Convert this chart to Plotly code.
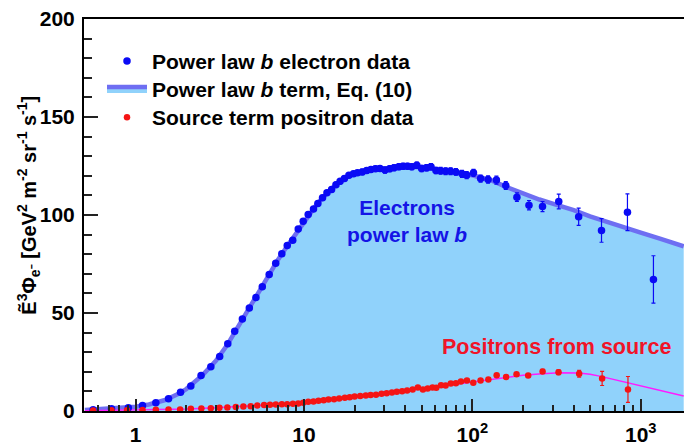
import plotly.graph_objects as go
import math

# ---------------- data ----------------
ele_E = [0.56, 0.72, 0.906, 1.10, 1.32, 1.57, 1.85, 2.13, 2.45, 2.80, 3.16, 3.53, 3.88, 4.31, 4.74,
         5.19, 5.66, 6.22, 6.80, 7.39, 7.96, 8.58, 9.25, 9.9, 10.6, 11.4, 12.1, 12.9, 13.7, 14.6,
         15.5, 16.4, 17.4, 18.5, 19.7, 20.8, 22.2, 23.6, 25.0, 26.6, 28.3, 30.3, 32.3, 34.3, 36.6,
         38.8, 41.2, 43.7, 46.8, 50.0, 53.5, 56.8, 60.8, 64.8, 69.4, 74.3, 79.9, 86.8, 92.6, 101.6,
         112, 124, 139, 158, 184, 217, 261, 326, 428, 585, 834, 1190]
ele_v = [0.7, 1.2, 1.6, 2.8, 4.2, 6.2, 9.6, 12.7, 18.1, 22.6, 27.8, 34.3, 40.7, 47.0, 52.5,
         57.9, 63.4, 69.6, 75.4, 80.2, 84.4, 87.1, 92.8, 96.8, 100.3, 103.0, 105.9, 108.8, 111.3, 113.0,
         115.4, 117.2, 118.6, 120.3, 121.0, 121.5, 122.0, 122.7, 123.2, 123.6, 123.7, 122.9, 123.6, 124.1, 124.6,
         124.9, 124.9, 124.6, 125.4, 123.7, 124.1, 124.6, 122.7, 122.6, 122.3, 122.3, 122.0, 121.0, 120.3, 121.5,
         118.6, 118.1, 117.8, 115.1, 109.1, 105.0, 104.3, 106.9, 99.1, 92.1, 101.4, 67.1]
ele_err = [0.3, 0.3, 0.3, 0.4, 0.4, 0.5, 0.6, 0.6, 0.7, 0.7, 0.8, 0.8, 0.8, 0.9, 0.9,
           0.9, 0.9, 1.0, 1.0, 1.0, 1.0, 1.0, 1.1, 1.1, 1.1, 1.1, 1.2, 1.2, 1.2, 1.2,
           1.2, 1.3, 1.3, 1.3, 1.3, 1.3, 1.4, 1.4, 1.4, 1.4, 1.4, 1.5, 1.5, 1.5, 1.5,
           1.5, 1.5, 1.5, 1.6, 1.6, 1.6, 1.6, 1.6, 1.7, 1.7, 1.7, 1.7, 1.8, 1.8, 1.8,
           1.8, 1.9, 2.0, 2.0, 2.2, 2.4, 2.6, 3.8, 4.4, 6.0, 9.4, 12.1]

pos_E = [0.56, 0.72, 0.89, 1.10, 1.32, 1.57, 1.84, 2.13, 2.46, 2.80, 3.15, 3.51, 3.94, 4.37, 4.83,
         5.28, 5.80, 6.29, 6.81, 7.39, 7.95, 8.6, 9.25, 9.9, 10.6, 11.4, 12.2, 13.1, 14.0, 15.1,
         16.2, 17.5, 18.7, 20.0, 21.6, 23.3, 24.9, 26.8, 28.9, 31.0, 33.3, 35.6, 38.3, 41.0, 44.2,
         47.5, 50.9, 54.3, 58.0, 61.1, 65.2, 69.4, 74.5, 79.9, 85.6, 92.9, 101.3, 111.9, 124.5, 139.5,
         158.7, 183.0, 214.7, 261.4, 325, 431, 590, 840]
pos_v = [0.25, 0.4, 0.4, 0.45, 0.6, 0.75, 0.75, 1.1, 1.3, 1.4, 1.6, 1.8, 2.1, 2.3, 2.4,
         2.8, 3.0, 3.2, 3.3, 3.4, 3.5, 3.7, 3.8, 4.2, 4.7, 4.8, 5.2, 5.5, 5.9, 6.0,
         6.4, 6.7, 7.0, 7.4, 7.6, 7.9, 8.1, 8.3, 8.8, 9.1, 9.4, 9.8, 10.1, 10.5, 11.0,
         12.0, 11.0, 11.5, 12.0, 11.8, 13.2, 13.0, 14.0, 14.2, 15.1, 15.6, 14.4, 15.6, 16.1, 18.3,
         17.4, 18.8, 18.1, 20.2, 19.8, 19.0, 16.6, 11.0]
pos_err = [0.1, 0.1, 0.1, 0.1, 0.1, 0.1, 0.1, 0.1, 0.1, 0.1, 0.1, 0.1, 0.1, 0.1, 0.1,
           0.1, 0.1, 0.1, 0.1, 0.2, 0.2, 0.2, 0.2, 0.2, 0.2, 0.2, 0.2, 0.2, 0.2, 0.2,
           0.2, 0.2, 0.2, 0.3, 0.3, 0.3, 0.3, 0.3, 0.3, 0.3, 0.3, 0.3, 0.3, 0.4, 0.4,
           0.4, 0.4, 0.4, 0.4, 0.4, 0.5, 0.5, 0.5, 0.5, 0.5, 0.6, 0.6, 0.6, 0.7, 0.7,
           0.8, 0.8, 0.9, 1.0, 1.2, 1.7, 3.6, 6.6]

model_E = [0.5, 0.6, 0.7, 0.8, 0.9, 1.0, 1.2, 1.5, 1.8, 2.0, 2.5, 3, 3.5, 4, 4.5, 5, 6, 7, 8, 9,
           10, 12, 14, 16, 18, 20, 25, 30, 40, 50, 60, 80, 100, 130, 160, 200, 250, 300, 400,
           500, 600, 800, 1000, 1300, 1800]
model_v = [0.5, 0.8, 1.1, 1.4, 1.8, 2.2, 3.3, 5.6, 8.8, 11.2, 18.3, 25.6, 33.6, 42.0, 49.5, 55.6,
           67.0, 77.0, 84.4, 90.5, 96.8, 105.8, 112.0, 116.6, 119.5, 121.2, 123.0, 123.8, 124.6,
           124.4, 123.6, 122.0, 120.3, 117.6, 114.2, 110.9, 107.9, 105.8, 102.5, 99.3, 97.0, 93.5,
           91.0, 87.9, 84.0]

src_E = [0.5, 1, 2, 3, 5, 7, 10, 15, 20, 30, 50, 70, 100, 150, 200, 260, 330, 430, 500, 570,
         690, 830, 1000, 1140, 1300, 1490, 1800]
src_v = [0.15, 0.45, 1.0, 1.6, 2.6, 3.4, 4.4, 6.0, 7.2, 9.0, 11.3, 13.0, 15.0, 17.0, 18.2, 19.0,
         19.5, 19.4, 18.8, 17.8, 16.1, 14.4, 12.6, 11.3, 10.3, 9.3, 7.6]

x_tickvals = [1, 10, 100, 1000]
x_ticktext = ["1", "10", "10<sup>2</sup>", "10<sup>3</sup>"]
x_minor = [m * d for d in (0.1, 1, 10, 100, 1000) for m in range(2, 10)]
y_tickvals = [0, 50, 100, 150, 200]

FONT = "Liberation Sans"
BLUE = "#0a0af5"
RED = "#f51414"

fig = go.Figure()

fig.add_trace(go.Scatter(
    x=model_E, y=model_v, mode="lines", fill="tozeroy",
    fillcolor="#90d2fb", line=dict(color="#6e6ef2", width=4.5),
    name="Power law <i>b</i> term, Eq. (10)", legend="legend2"))

fig.add_trace(go.Scatter(
    x=src_E, y=src_v, mode="lines", line=dict(color="#ff1aff", width=1.5),
    showlegend=False))

fig.add_trace(go.Scatter(
    x=ele_E, y=ele_v, mode="markers",
    marker=dict(color=BLUE, size=7.5),
    error_y=dict(type="data", array=ele_err, color=BLUE, thickness=1.2, width=2),
    name="Power law <i>b</i> electron data", legend="legend"))

fig.add_trace(go.Scatter(
    x=pos_E, y=pos_v, mode="markers",
    marker=dict(color=RED, size=6.5),
    error_y=dict(type="data", array=pos_err, color=RED, thickness=1.2, width=2),
    name="Source term positron data", legend="legend3"))

fig.add_annotation(x=math.log10(40.9), y=97, xref="x", yref="y",
                   text="Electrons<br>power law <i>b</i>", showarrow=False,
                   font=dict(family=FONT, size=21, color="#1414e6", weight="bold"))
fig.add_annotation(x=math.log10(318), y=32.5, xref="x", yref="y",
                   text="Positrons from source", showarrow=False,
                   font=dict(family=FONT, size=21.5, color="#f01428", weight="bold"))
fig.add_annotation(x=-0.12, y=0.525, xref="paper", yref="paper", textangle=-90,
                   text="Ẽ<sup>3</sup>Φ<sub>e⁻</sub> [GeV<sup>2</sup> m<sup>-2</sup> sr<sup>-1</sup> s<sup>-1</sup>]",
                   showarrow=False,
                   font=dict(family=FONT, size=20, color="black", weight="bold"))

def leg(ytop):
    return dict(x=0.03, y=ytop, xanchor="left", yanchor="top", itemwidth=40,
                bgcolor="rgba(0,0,0,0)", font=dict(family=FONT, size=21, weight="bold"))

fig.update_layout(
    width=684, height=447,
    margin=dict(l=84, r=0, t=19, b=36),
    paper_bgcolor="white", plot_bgcolor="white",
    font=dict(family=FONT, size=20, color="black", weight="bold"),
    showlegend=True,
    legend=leg(0.944), legend2=leg(0.8726), legend3=leg(0.801),
)

fig.update_xaxes(
    type="log", range=[-0.306, 3.257],
    tickvals=x_tickvals, ticktext=x_ticktext,
    ticks="inside", ticklen=12, tickwidth=1.5, tickcolor="#222",
    minor=dict(tickmode="array", tickvals=x_minor, ticks="inside", ticklen=6,
               tickwidth=1.5, tickcolor="#222", showgrid=False),
    showline=True, linecolor="black", linewidth=2, mirror=True,
    showgrid=False, zeroline=False, ticklabelstandoff=4,
    tickfont=dict(family=FONT, size=21, weight="bold"))

fig.update_yaxes(
    range=[0, 200], tickvals=y_tickvals,
    ticks="inside", ticklen=14, tickwidth=1.5, tickcolor="#222",
    minor=dict(dtick=10, ticks="inside", ticklen=8, tickwidth=1.5,
               tickcolor="#222", showgrid=False),
    showline=True, linecolor="black", linewidth=2, mirror=False,
    showgrid=False, zeroline=False, ticklabelstandoff=3,
    tickfont=dict(family=FONT, size=21, weight="bold"))

fig.write_html("out.html", config={"displayModeBar": False},
               post_script="document.body.style.margin='0px';document.body.style.padding='0px';")
